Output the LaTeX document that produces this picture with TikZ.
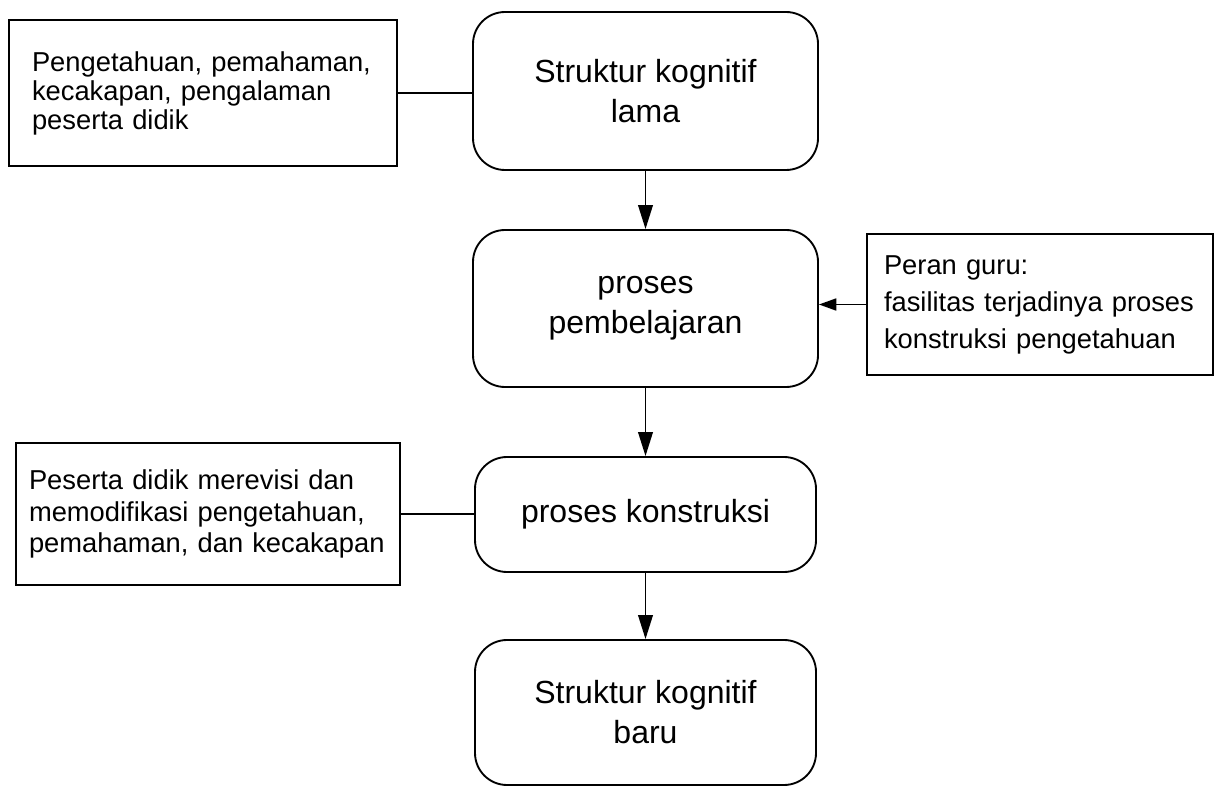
\documentclass[tikz,border=0pt]{standalone}
\usepackage{fontspec}
\setmainfont{Liberation Sans}
\usetikzlibrary{arrows.meta}
\begin{document}
\begin{tikzpicture}[x=0.75pt,y=-0.75pt,
  flow/.style={draw, line width=1.4pt, rounded corners=24pt, align=center,
    font=\fontsize{24}{30}\selectfont, inner sep=0pt},
  note/.style={draw, line width=1.3pt, align=left, inner ysep=0pt,
    font=\fontsize{20.5}{22}\selectfont},
  arr/.style={-{Triangle[length=18pt,width=11pt]}, line width=1.3pt},
  sidearr/.style={-{Triangle[length=13pt,width=9pt]}, line width=1.3pt},
  link/.style={line width=1.3pt}]
\useasboundingbox (0,0) rectangle (1217,787);

% main flow
\node[flow, minimum width=258.75pt, minimum height=118.5pt] (kb1) at (645.5,91)
  {Struktur kognitif\\lama};
\node[flow, minimum width=258.75pt, minimum height=117.75pt] (pb) at (645.5,308.5)
  {proses\\pembelajaran};
\node[flow, minimum width=255.75pt, minimum height=86.25pt] (pk) at (645.5,514.5)
  {proses konstruksi};
\node[flow, minimum width=255.75pt, minimum height=108.75pt] (kb2) at (645.5,712.5)
  {Struktur kognitif\\baru};

% side notes
\node[note, inner xsep=17.25pt, text width=256.5pt, minimum height=109.5pt,
  font=\fontsize{20.5}{21.75}\selectfont] (n1) at (203,93)
  {Pengetahuan, pemahaman,\\kecakapan, pengalaman\\peserta didik};
\node[note, inner xsep=12.75pt, text width=234pt, minimum height=105.75pt,
  font=\fontsize{20.5}{27.75}\selectfont] (gr) at (1040,304.5)
  {Peran guru:\\fasilitas terjadinya proses\\konstruksi pengetahuan};
\node[note, inner xsep=9.75pt, text width=268.5pt, minimum height=106.5pt,
  font=\fontsize{20.5}{23.75}\selectfont] (n2) at (208,514)
  {Peserta didik merevisi dan\\memodifikasi pengetahuan,\\pemahaman, dan kecakapan};

% connectors
\draw[arr] (kb1.south) -- (pb.north);
\draw[arr] (pb.south) -- (pk.north);
\draw[arr] (pk.south) -- (kb2.north);
\draw[link] (n1.east) -- (n1.east -| kb1.west);
\draw[link] (n2.east) -- (n2.east -| pk.west);
\draw[sidearr] (gr.west) -- (gr.west -| pb.east);
\end{tikzpicture}
\end{document}
